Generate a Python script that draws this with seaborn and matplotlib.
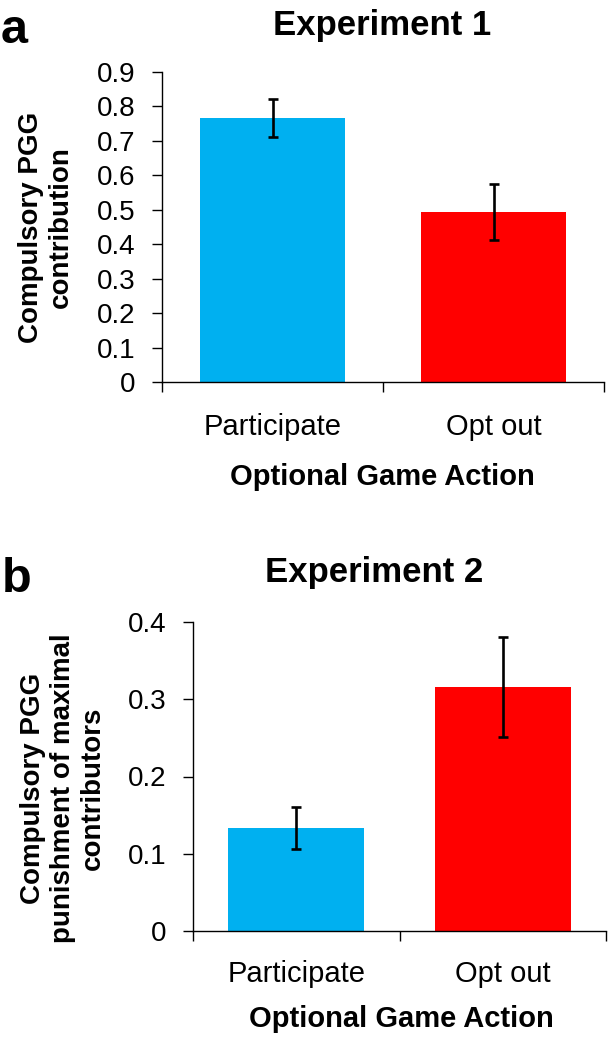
import numpy as np
import matplotlib
matplotlib.use("Agg")
import matplotlib.pyplot as plt
import seaborn as sns

actions = ["Participate", "Opt out"]
colors = ["#00B0F0", "#FF0000"]

exp1_mean = [0.767, 0.493]
exp1_err = [0.055, 0.082]
exp1_yticks = [0, 0.1, 0.2, 0.3, 0.4, 0.5, 0.6, 0.7, 0.8, 0.9]

exp2_mean = [0.133, 0.316]
exp2_err = [0.027, 0.065]
exp2_yticks = [0, 0.1, 0.2, 0.3, 0.4]

sns.set_style("white")
plt.rcParams["font.family"] = ["Liberation Sans", "DejaVu Sans"]
plt.rcParams["text.color"] = "black"
plt.rcParams["xtick.color"] = "black"
plt.rcParams["ytick.color"] = "black"
plt.rcParams["axes.labelcolor"] = "black"

W, H = 615, 1050
fig = plt.figure(figsize=(6.15, 10.5), dpi=100)


def box(l, t, r, b):
    return [l / W, 1 - b / H, (r - l) / W, (b - t) / H]


def draw(ax, means, errs, yticks, xpad):
    sns.barplot(x=actions, y=means, hue=actions, palette=colors, width=0.66,
                saturation=1, linewidth=0, legend=False, ax=ax)
    ax.errorbar(np.arange(len(actions)), means, yerr=errs, fmt="none",
                ecolor="black", elinewidth=1.9, capsize=3.5, capthick=1.9)
    ax.set_xlim(-0.5, len(actions) - 0.5)
    ax.set_ylim(yticks[0], yticks[-1])
    ax.set_yticks(yticks)
    ax.set_yticklabels([f"{v:g}" for v in yticks])
    ax.set_xticks(np.arange(-0.5, len(actions), 1.0), minor=True)
    ax.tick_params(axis="y", which="major", left=True, direction="out",
                   length=7, width=1, pad=12, labelsize=20, color="black",
                   labelcolor="black")
    ax.tick_params(axis="x", which="major", bottom=True, length=0,
                   pad=xpad, labelsize=21, labelcolor="black")
    ax.tick_params(axis="x", which="minor", bottom=True, direction="out",
                   length=7, width=1, color="black")
    ax.set_xlabel("")
    ax.set_ylabel("")
    sns.despine(ax=ax)
    for s in ["left", "bottom"]:
        ax.spines[s].set_color("black")
        ax.spines[s].set_linewidth(1)


ax1 = fig.add_axes(box(162, 72, 604, 382))
draw(ax1, exp1_mean, exp1_err, exp1_yticks, 22)

ax2 = fig.add_axes(box(193, 622, 606, 931))
draw(ax2, exp2_mean, exp2_err, exp2_yticks, 21)


def ft(x, y, s, **kw):
    fig.text(x / W, 1 - y / H, s, color="black", **kw)


# panel letters and titles
ft(1, 43, "a", fontsize=35, fontweight="bold", ha="left", va="baseline")
ft(2, 592, "b", fontsize=35, fontweight="bold", ha="left", va="baseline")
ft(382, 35, "Experiment 1", fontsize=25, fontweight="bold", ha="center", va="baseline")
ft(374, 582, "Experiment 2", fontsize=25, fontweight="bold", ha="center", va="baseline")

# axis labels
ft(382, 485, "Optional Game Action", fontsize=21, fontweight="bold", ha="center", va="baseline")
ft(401, 1027, "Optional Game Action", fontsize=21, fontweight="bold", ha="center", va="baseline")
ft(46, 227, "Compulsory PGG\ncontribution", fontsize=20, fontweight="bold",
   rotation=90, ha="center", va="center", multialignment="center")
ft(63, 788, "Compulsory PGG\npunishment of maximal\ncontributors", fontsize=20,
   fontweight="bold", rotation=90, ha="center", va="center", multialignment="center")

fig.savefig("out.png", dpi=100)
